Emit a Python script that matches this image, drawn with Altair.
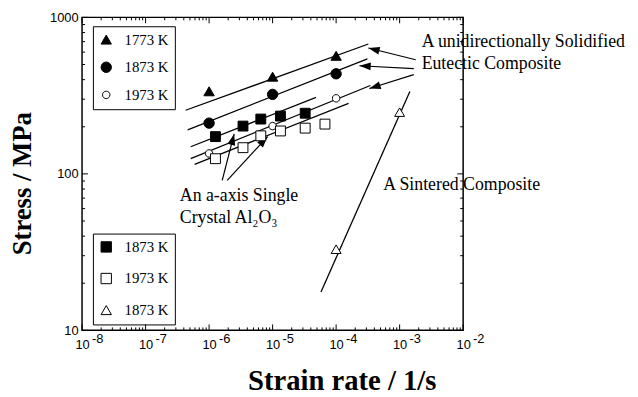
import math
import altair as alt
import pandas as pd

SERIF = "Liberation Serif"
SANS = "Liberation Sans"
W, H = 386, 317
XDOM = [1e-8, 1e-2]
YDOM = [10, 1000]
SMALL_CIRCLE = "M0.72,0A0.72,0.72,0,1,1,-0.72,0A0.72,0.72,0,1,1,0.72,0Z"

# ---------------- values ----------------
x_major = [1e-8, 1e-7, 1e-6, 1e-5, 1e-4, 1e-3, 1e-2]
x_exponent = ["-8", "-7", "-6", "-5", "-4", "-3", "-2"]
y_major = [10, 100, 1000]
x_minor = [m * 10.0 ** e for e in range(-8, -2) for m in range(2, 10)]
y_minor = [m * 10.0 ** e for e in (1, 2) for m in range(2, 10)]

# unidirectionally solidified eutectic composite
comp_temps = ["1773 K", "1873 K", "1973 K"]
comp_rate = [1e-6, 1e-5, 1e-4]
comp_1773 = [337, 418, 568]
comp_1873 = [211, 322, 436]
comp_1973 = [135, 202, 304]

# a-axis single crystal Al2O3
sc_rate = [1.26e-6, 3.42e-6, 6.52e-6, 1.33e-5, 3.26e-5, 6.67e-5]
sc_1873 = [173, 202, 224, 234, 244]
sc_1973 = [125, 147, 175, 188, 196, 208]

# sintered composite
sin_rate = [1e-4, 1e-3]
sin_1873 = [33, 248]

# fitted lines (start / end)
line_id = ["c1773", "c1873", "sc1873", "c1973", "sc1973", "sin1873"]
line_rate0 = [4.28e-7, 4.6e-7, 5.13e-7, 5.13e-7, 5.92e-7, 5.78e-5]
line_rate1 = [3.22e-4, 3.11e-4, 4.83e-5, 3.46e-4, 1.57e-4, 1.45e-3]
line_stress0 = [255, 191, 149, 125, 115, 17.6]
line_stress1 = [676, 543, 308, 367, 282, 336]

# annotation arrows (tail -> tip)
arrow_tail_rate = [1.79e-3, 1.67e-3, 1.67e-3, 1.61e-6, 1.93e-6]
arrow_tail_stress = [536, 470, 431, 91, 91]
arrow_tip_rate = [3.22e-4, 2.33e-4, 3.34e-4, 2.48e-6, 8.36e-6]
arrow_tip_stress = [637, 491, 351, 180, 173]

# annotation texts
ann_text = ["A unidirectionally Solidified", "Eutectic Composite",
            "An a-axis Single", "Crystal Al\u2082O\u2083", "A Sintered Composite"]
ann_rate = [2.22e-3, 2.22e-3, 3.46e-7, 3.46e-7, 5.51e-4]
ann_stress = [695, 505, 72.1, 52.4, 84.5]

# ---------------- tables ----------------
df_comp = pd.DataFrame({
    "rate": comp_rate * 3,
    "stress": comp_1773 + comp_1873 + comp_1973,
    "series": [t for t in comp_temps for _ in comp_rate],
})
sc_keys = ["sc1873", "sc1973", "sin1873"]
df_sc = pd.DataFrame({
    "rate": sc_rate[:len(sc_1873)] + sc_rate + sin_rate,
    "stress": sc_1873 + sc_1973 + sin_1873,
    "series": ["sc1873"] * len(sc_1873) + ["sc1973"] * len(sc_1973) + ["sin1873"] * len(sin_1873),
})
df_lines = pd.DataFrame({
    "rate": line_rate0 + line_rate1,
    "stress": line_stress0 + line_stress1,
    "line": line_id + line_id,
})

ppx = W / (math.log10(XDOM[1]) - math.log10(XDOM[0]))
ppy = H / (math.log10(YDOM[1]) - math.log10(YDOM[0]))
angles = []
for r0, s0, r1, s1 in zip(arrow_tail_rate, arrow_tail_stress, arrow_tip_rate, arrow_tip_stress):
    dx = (math.log10(r1) - math.log10(r0)) * ppx
    dy = -(math.log10(s1) - math.log10(s0)) * ppy
    angles.append(math.degrees(math.atan2(dx, -dy)) % 360)
df_arrows = pd.DataFrame({
    "rate": arrow_tail_rate, "stress": arrow_tail_stress,
    "rate2": arrow_tip_rate, "stress2": arrow_tip_stress,
})
df_heads = pd.DataFrame({"rate": arrow_tip_rate, "stress": arrow_tip_stress, "ang": angles})
df_ann = pd.DataFrame({"rate": ann_rate, "stress": ann_stress, "text": ann_text})
df_xmaj = pd.DataFrame({"rate": x_major, "exp": x_exponent})
df_xmin = pd.DataFrame({"rate": x_minor})
df_ymaj = pd.DataFrame({"stress": y_major})
df_ymin = pd.DataFrame({"stress": y_minor})

xs = alt.Scale(type="log", domain=XDOM, nice=False)
ys = alt.Scale(type="log", domain=YDOM, nice=False)

x_axis = alt.Axis(values=x_major, labelExpr="'10'", ticks=False, domain=False, grid=False,
                  labelFont=SANS, labelFontSize=13, labelPadding=8, labelFlush=False,
                  labelOverlap=False, labelColor="black", labelAlign="center",
                  title="Strain rate / 1/s", titleFont=SERIF, titleFontSize=29,
                  titleFontWeight="bold", titleColor="black", titleX=263, titleY=51,
                  titleAlign="center", titleBaseline="middle")
y_axis = alt.Axis(values=y_major, format="d", ticks=False, domain=False, grid=False,
                  labelFont=SANS, labelFontSize=13, labelPadding=4, labelFlush=False,
                  labelOverlap=False, labelColor="black",
                  title="Stress / MPa", titleFont=SERIF, titleFontSize=27,
                  titleFontWeight="bold", titleColor="black", titleAngle=270,
                  titleX=-60, titleY=168, titleAlign="center", titleBaseline="middle")

lines = alt.Chart(df_lines).mark_line(color="black", strokeWidth=1.3).encode(
    x=alt.X("rate:Q", scale=xs, axis=x_axis),
    y=alt.Y("stress:Q", scale=ys, axis=y_axis),
    detail="line:N",
)

def xticks(df, y0, y1):
    return alt.Chart(df).mark_rule(color="black", strokeWidth=1).encode(
        x=alt.X("rate:Q", scale=xs), y=alt.value(y0), y2=alt.value(y1))

def yticks(df, x0, x1):
    return alt.Chart(df).mark_rule(color="black", strokeWidth=1).encode(
        y=alt.Y("stress:Q", scale=ys), x=alt.value(x0), x2=alt.value(x1))

ticks = [
    xticks(df_xmaj, H, H - 6), xticks(df_xmaj, 0, 6),
    xticks(df_xmin, H, H - 3), xticks(df_xmin, 0, 3),
    yticks(df_ymaj, 0, 6), yticks(df_ymaj, W, W - 6),
    yticks(df_ymin, 0, 3), yticks(df_ymin, W, W - 3),
]

exps = alt.Chart(df_xmaj).mark_text(font=SANS, fontSize=13, align="left", baseline="middle",
                                    dx=10, color="black").encode(
    x=alt.X("rate:Q", scale=xs), y=alt.value(H + 9), text="exp:N")

arrows = alt.Chart(df_arrows).mark_rule(color="black", strokeWidth=1.2).encode(
    x=alt.X("rate:Q", scale=xs), y=alt.Y("stress:Q", scale=ys),
    x2="rate2:Q", y2="stress2:Q")
heads = alt.Chart(df_heads).mark_point(shape="M0,0L0.7,2L-0.7,2Z", filled=True, size=130,
                                       color="black", opacity=1).encode(
    x=alt.X("rate:Q", scale=xs), y=alt.Y("stress:Q", scale=ys),
    angle=alt.Angle("ang:Q", scale=None))

def legend(lx, ly, rowpad, expr):
    return alt.Legend(orient="none", legendX=lx, legendY=ly, title=None, strokeColor="black",
                      padding=6, rowPadding=rowpad, labelFont=SERIF, labelFontSize=15,
                      labelOffset=11, symbolSize=110, symbolStrokeWidth=1,
                      labelColor="black", labelExpr=expr)

leg_top = legend(11, 9, 12, "datum.label + '\u00a0\u00a0\u00a0'")
leg_bot = legend(11, 219, 16,
                 "(datum.label == 'sc1973' ? '1973 K' : '1873 K') + '\u00a0\u00a0\u00a0'")

pts_comp = alt.Chart(df_comp).mark_point(filled=True, strokeWidth=1,
                                          opacity=1, size=110).encode(
    x=alt.X("rate:Q", scale=xs), y=alt.Y("stress:Q", scale=ys),
    shape=alt.Shape("series:N", scale=alt.Scale(domain=comp_temps,
                    range=["triangle-up", "circle", SMALL_CIRCLE]), legend=leg_top),
    fill=alt.Fill("series:N", scale=alt.Scale(domain=comp_temps,
                  range=["black", "black", "white"]), legend=leg_top),
    stroke=alt.Stroke("series:N", scale=alt.Scale(domain=comp_temps,
                      range=["black", "black", "black"]), legend=leg_top),
)
pts_sc = alt.Chart(df_sc).mark_point(filled=True, strokeWidth=1,
                                      opacity=1, size=100).encode(
    x=alt.X("rate:Q", scale=xs), y=alt.Y("stress:Q", scale=ys),
    shape=alt.Shape("series:N", scale=alt.Scale(domain=sc_keys,
                    range=["square", "square", "triangle-up"]), legend=leg_bot),
    fill=alt.Fill("series:N", scale=alt.Scale(domain=sc_keys,
                  range=["black", "white", "white"]), legend=leg_bot),
    stroke=alt.Stroke("series:N", scale=alt.Scale(domain=sc_keys,
                      range=["black", "black", "black"]), legend=leg_bot),
)

ann = alt.Chart(df_ann).mark_text(font=SERIF, fontSize=18, align="left", baseline="middle",
                                  color="black").encode(
    x=alt.X("rate:Q", scale=xs), y=alt.Y("stress:Q", scale=ys), text="text:N")

chart = alt.layer(lines, *ticks, exps, arrows, heads, pts_comp, pts_sc, ann).resolve_scale(
    shape="independent", fill="independent", stroke="independent"
).properties(
    width=W, height=H,
    autosize=alt.AutoSizeParams(type="none"),
    padding={"left": 75, "top": 7, "right": 169, "bottom": 65},
    background="white",
).configure_view(stroke="black", strokeWidth=1.5)

chart.save("out.html", embed_options={"renderer": "svg", "actions": False})
